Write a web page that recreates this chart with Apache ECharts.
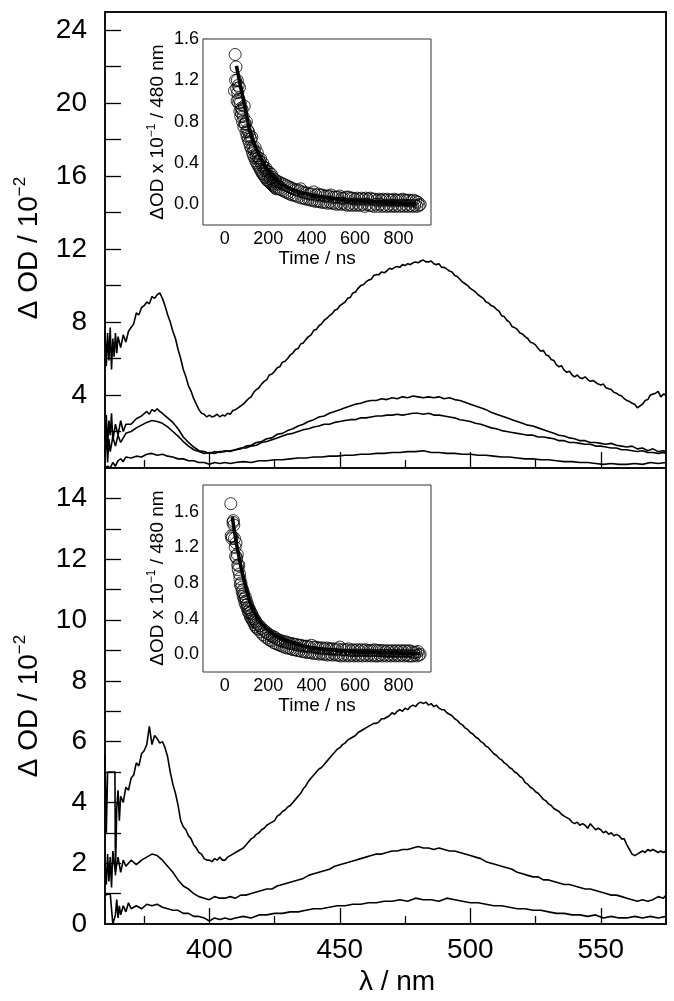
<!DOCTYPE html>
<html><head><meta charset="utf-8">
<script src="https://cdn.jsdelivr.net/npm/echarts@6/dist/echarts.min.js"></script>
<style>html,body{margin:0;padding:0;background:#fff}#c{width:674px;height:1001px}</style>
</head><body><div id="c"></div>
<script>
// ---- main spectra, top panel (λ nm, ΔOD /10^-2)
const topA = [[360,7.5],[360.5,5.6],[361,7.4],[361.5,5.9],[362,7.7],[362.5,5.4],[363,7.1],[363.5,6.1],[364,7.4],[364.5,6.3],[365,7.2],[366,6.6],[367,7.3],[368,6.9],[369,7.5],[370,7.7],[371,7.9],[372,8.5],[373,8.4],[374,8.8],[375,8.9],[376,9.1],[377,9.0],[378,9.4],[379,9.3],[380,9.5],[381,9.6],[382,9.3],[383,8.9],[384,8.4],[385,8.0],[386,7.5],[387,7.1],[388,6.5],[389,6.0],[390,5.4],[391,5.0],[392,4.5],[393,4.2],[394,3.8],[395,3.5],[396,3.2],[397,3.0],[398,2.95],[399,2.8],[400,2.9],[401,2.8],[402,2.85],[403,2.95],[404,2.8],[405,2.9],[406,2.85],[407,3.0],[408,2.95],[409,3.15],[410,3.2],[411,3.3],[412,3.4],[413,3.5],[414,3.65],[415,3.8],[416,3.9],[417,4.15],[418,4.3],[419,4.4],[420,4.6],[421,4.75],[422,4.85],[423,5.1],[424,5.15],[425,5.3],[426,5.5],[427,5.55],[428,5.8],[429,5.85],[430,6.0],[431,6.2],[432,6.3],[433,6.5],[434,6.55],[435,6.8],[436,6.85],[437,7.05],[438,7.2],[439,7.3],[440,7.55],[441,7.6],[442,7.8],[443,7.9],[444,8.1],[445,8.2],[446,8.35],[447,8.45],[448,8.65],[449,8.7],[450,8.9],[451,9.0],[452,9.1],[453,9.3],[454,9.35],[455,9.6],[456,9.65],[457,9.85],[458,10.0],[459,10.05],[460,10.2],[461,10.3],[462,10.35],[463,10.55],[464,10.6],[465,10.6],[466,10.75],[467,10.7],[468,10.8],[469,10.95],[470,10.9],[471,11.0],[472,11.05],[473,11.0],[474,11.15],[475,11.1],[476,11.2],[477,11.15],[478,11.25],[479,11.3],[480,11.25],[481,11.35],[482,11.4],[483,11.3],[484,11.3],[485,11.35],[486,11.2],[487,11.15],[488,11.2],[489,11.0],[490,11.0],[491,10.9],[492,10.8],[493,10.75],[494,10.55],[495,10.5],[496,10.35],[497,10.2],[498,10.1],[499,10.0],[500,9.85],[501,9.75],[502,9.65],[503,9.5],[504,9.4],[505,9.3],[506,9.1],[507,9.05],[508,8.9],[509,8.85],[510,8.7],[511,8.6],[512,8.35],[513,8.3],[514,8.1],[515,8.0],[516,7.75],[517,7.7],[518,7.6],[519,7.4],[520,7.35],[521,7.2],[522,7.1],[523,6.9],[524,6.85],[525,6.75],[526,6.55],[527,6.4],[528,6.45],[529,6.2],[530,6.15],[531,5.95],[532,5.9],[533,5.65],[534,5.55],[535,5.6],[536,5.35],[537,5.25],[538,5.3],[539,5.1],[540,5.0],[541,5.1],[542,4.95],[543,4.9],[544,5.0],[545,4.85],[546,4.75],[547,4.8],[548,4.7],[549,4.6],[550,4.55],[551,4.6],[552,4.4],[553,4.35],[554,4.3],[555,4.15],[556,4.1],[557,4.0],[558,3.95],[559,3.8],[560,3.7],[561,3.65],[562,3.55],[563,3.5],[564,3.3],[565,3.4],[566,3.5],[567,3.7],[568,3.75],[569,4.0],[570,4.05],[571,4.1],[572,4.2],[573,3.9],[574,4.05],[575,4.0]];
const topB = [[360,1.5],[360.5,2.9],[361,1.2],[361.5,2.6],[362,1.8],[362.5,3.0],[363,1.5],[364,2.4],[365,1.8],[366,2.6],[367,2.0],[368,2.4],[370,2.4],[372,2.7],[374,2.85],[376,3.1],[377,2.95],[378,3.2],[379,3.1],[380,3.25],[381,3.1],[382,3.0],[384,2.75],[386,2.5],[388,2.15],[390,1.7],[392,1.4],[394,1.15],[396,0.95],[398,0.9],[400,0.8],[402,0.9],[404,0.85],[406,0.95],[408,0.9],[410,1.0],[412,1.05],[414,1.2],[416,1.25],[418,1.4],[420,1.45],[422,1.6],[424,1.65],[426,1.85],[428,1.9],[430,2.05],[432,2.15],[434,2.3],[436,2.4],[438,2.55],[440,2.65],[442,2.8],[444,2.85],[446,3.0],[448,3.1],[450,3.2],[452,3.3],[454,3.4],[456,3.5],[458,3.55],[460,3.65],[462,3.7],[464,3.7],[466,3.8],[468,3.75],[470,3.85],[472,3.8],[474,3.9],[476,3.85],[478,3.95],[480,3.9],[482,3.85],[484,3.9],[486,3.85],[488,3.9],[490,3.8],[492,3.85],[494,3.75],[496,3.7],[498,3.6],[500,3.5],[502,3.4],[504,3.3],[506,3.2],[508,3.05],[510,2.95],[512,2.85],[514,2.75],[516,2.65],[518,2.55],[520,2.45],[522,2.35],[524,2.3],[526,2.2],[528,2.1],[530,2.0],[532,1.9],[534,1.8],[536,1.75],[538,1.65],[540,1.6],[542,1.5],[544,1.5],[546,1.4],[548,1.4],[550,1.35],[552,1.3],[554,1.35],[556,1.25],[558,1.2],[560,1.15],[562,1.2],[564,1.05],[566,1.1],[568,0.95],[570,1.05],[572,0.9],[574,0.95],[575,0.9]];
const topC = [[360,0.6],[360.5,2.0],[361,0.3],[361.5,1.6],[362,0.9],[363,1.7],[364,1.2],[365,1.8],[366,1.4],[368,1.9],[370,2.0],[372,2.2],[374,2.35],[376,2.5],[378,2.6],[380,2.55],[382,2.45],[384,2.25],[386,2.0],[388,1.75],[390,1.45],[392,1.2],[394,1.0],[396,0.9],[398,0.8],[400,0.85],[402,0.8],[404,0.9],[406,0.9],[408,0.95],[410,1.0],[412,1.1],[414,1.1],[416,1.2],[418,1.25],[420,1.4],[422,1.45],[424,1.55],[426,1.65],[428,1.75],[430,1.85],[432,1.9],[434,2.0],[436,2.1],[438,2.15],[440,2.25],[442,2.3],[444,2.4],[446,2.4],[448,2.5],[450,2.55],[452,2.6],[454,2.65],[456,2.65],[458,2.75],[460,2.75],[462,2.8],[464,2.85],[466,2.85],[468,2.9],[470,2.9],[472,2.95],[474,2.9],[476,2.95],[478,3.0],[480,3.0],[482,2.95],[484,3.0],[486,2.9],[488,2.9],[490,2.85],[492,2.8],[494,2.75],[496,2.65],[498,2.6],[500,2.55],[502,2.45],[504,2.4],[506,2.3],[508,2.2],[510,2.15],[512,2.05],[514,2.0],[516,1.95],[518,1.9],[520,1.85],[522,1.8],[524,1.8],[526,1.7],[528,1.7],[530,1.65],[532,1.6],[534,1.5],[536,1.5],[538,1.4],[540,1.4],[542,1.35],[544,1.3],[546,1.3],[548,1.2],[550,1.2],[552,1.15],[554,1.1],[556,1.1],[558,1.0],[560,1.0],[562,0.95],[564,0.9],[566,0.95],[568,0.85],[570,0.85],[572,0.8],[574,0.85],[575,0.8]];
const topD = [[360,0.0],[361,0.1],[362,0.0],[363,0.3],[364,0.1],[365,0.4],[366,0.5],[367,0.35],[368,0.6],[370,0.55],[372,0.65],[374,0.6],[376,0.75],[378,0.8],[380,0.7],[382,0.75],[384,0.65],[386,0.6],[388,0.5],[390,0.5],[392,0.4],[394,0.4],[396,0.3],[398,0.3],[400,0.2],[402,0.3],[404,0.25],[406,0.3],[408,0.25],[410,0.3],[413,0.35],[416,0.3],[419,0.4],[422,0.4],[425,0.45],[428,0.45],[431,0.5],[434,0.55],[437,0.55],[440,0.6],[443,0.6],[446,0.65],[449,0.65],[452,0.7],[455,0.7],[458,0.75],[461,0.75],[464,0.8],[467,0.8],[470,0.85],[473,0.85],[476,0.9],[479,0.9],[482,0.95],[485,0.85],[488,0.85],[491,0.8],[494,0.8],[497,0.75],[500,0.75],[503,0.7],[506,0.7],[509,0.65],[512,0.6],[515,0.6],[518,0.55],[521,0.5],[524,0.5],[527,0.45],[530,0.45],[533,0.4],[536,0.35],[539,0.35],[542,0.3],[545,0.3],[548,0.25],[551,0.2],[554,0.25],[557,0.2],[560,0.2],[563,0.25],[566,0.2],[569,0.3],[572,0.25],[575,0.3]];
// ---- main spectra, bottom panel
const botE = [[360,5.6],[360.5,3.0],[361,5.0],[362,5.0],[363,5.0],[363.8,5.0],[364,1.6],[364.5,3.8],[365,4.4],[365.5,3.4],[366,4.2],[367,4.0],[368,4.5],[369,4.4],[370,4.8],[371,4.9],[372,5.3],[373,5.2],[374,5.6],[375,5.7],[376,5.9],[377,6.5],[378,5.9],[379,6.2],[380,6.1],[381,5.95],[382,6.0],[383,5.8],[384,5.5],[385,5.0],[386,4.6],[387,4.3],[388,3.9],[389,3.4],[390,3.2],[391,3.1],[392,2.9],[393,2.8],[394,2.6],[395,2.5],[396,2.35],[397,2.3],[398,2.15],[399,2.1],[400,2.1],[401,2.05],[402,2.15],[403,2.1],[404,2.2],[405,2.1],[406,2.1],[407,2.2],[408,2.25],[409,2.3],[410,2.35],[411,2.4],[412,2.45],[413,2.5],[414,2.6],[415,2.7],[416,2.8],[417,2.85],[418,2.95],[419,3.0],[420,3.1],[421,3.15],[422,3.25],[423,3.3],[424,3.35],[425,3.4],[426,3.55],[427,3.6],[428,3.7],[429,3.75],[430,3.85],[431,3.9],[432,4.0],[433,4.1],[434,4.2],[435,4.3],[436,4.45],[437,4.55],[438,4.7],[439,4.8],[440,4.9],[441,5.0],[442,5.1],[443,5.15],[444,5.25],[445,5.35],[446,5.45],[447,5.55],[448,5.65],[449,5.75],[450,5.8],[451,5.9],[452,5.95],[453,6.05],[454,6.1],[455,6.15],[456,6.2],[457,6.3],[458,6.35],[459,6.4],[460,6.45],[461,6.5],[462,6.55],[463,6.6],[464,6.6],[465,6.65],[466,6.75],[467,6.75],[468,6.8],[469,6.85],[470,6.95],[471,6.9],[472,7.0],[473,7.05],[474,7.0],[475,7.1],[476,7.05],[477,7.15],[478,7.2],[479,7.15],[480,7.25],[481,7.3],[482,7.25],[483,7.3],[484,7.2],[485,7.25],[486,7.15],[487,7.2],[488,7.1],[489,7.05],[490,7.05],[491,6.95],[492,6.9],[493,6.85],[494,6.75],[495,6.7],[496,6.6],[497,6.55],[498,6.45],[499,6.4],[500,6.3],[501,6.25],[502,6.15],[503,6.1],[504,6.0],[505,5.95],[506,5.85],[507,5.8],[508,5.7],[509,5.6],[510,5.55],[511,5.45],[512,5.4],[513,5.3],[514,5.25],[515,5.15],[516,5.1],[517,5.0],[518,4.95],[519,4.85],[520,4.8],[521,4.65],[522,4.6],[523,4.5],[524,4.45],[525,4.35],[526,4.3],[527,4.2],[528,4.1],[529,4.05],[530,3.95],[531,3.9],[532,3.8],[533,3.75],[534,3.7],[535,3.6],[536,3.55],[537,3.5],[538,3.45],[539,3.35],[540,3.3],[541,3.35],[542,3.25],[543,3.3],[544,3.25],[545,3.15],[546,3.3],[547,3.2],[548,3.1],[549,3.15],[550,3.1],[551,3.0],[552,3.05],[553,2.95],[554,3.0],[555,2.9],[556,2.95],[557,2.9],[558,2.8],[559,2.8],[560,2.6],[561,2.45],[562,2.3],[563,2.25],[564,2.3],[565,2.35],[566,2.4],[567,2.35],[568,2.45],[569,2.4],[570,2.45],[571,2.4],[572,2.35],[573,2.4],[574,2.35],[575,2.4]];
const botF = [[360,2.0],[360.5,1.3],[361,2.3],[361.5,1.4],[362,2.2],[362.5,1.2],[363,2.4],[364,1.7],[365,2.2],[366,1.7],[367,2.1],[368,1.9],[370,2.1],[372,1.95],[374,2.1],[376,2.2],[378,2.3],[380,2.25],[382,2.1],[384,1.9],[386,1.7],[388,1.45],[390,1.25],[392,1.15],[394,1.0],[396,0.9],[398,0.85],[400,0.8],[402,0.9],[404,0.85],[406,0.85],[408,0.9],[410,0.85],[412,0.95],[414,0.95],[416,1.0],[418,1.05],[420,1.1],[422,1.15],[424,1.15],[426,1.25],[428,1.3],[430,1.35],[432,1.4],[434,1.45],[436,1.5],[438,1.6],[440,1.65],[442,1.7],[444,1.75],[446,1.8],[448,1.9],[450,1.95],[452,2.0],[454,2.05],[456,2.1],[458,2.15],[460,2.2],[462,2.25],[464,2.3],[466,2.3],[468,2.35],[470,2.4],[472,2.4],[474,2.45],[476,2.45],[478,2.5],[480,2.55],[482,2.5],[484,2.5],[486,2.45],[488,2.5],[490,2.45],[492,2.4],[494,2.4],[496,2.35],[498,2.3],[500,2.25],[502,2.2],[504,2.15],[506,2.05],[508,2.0],[510,1.95],[512,1.9],[514,1.85],[516,1.8],[518,1.7],[520,1.65],[522,1.6],[524,1.55],[526,1.55],[528,1.45],[530,1.45],[532,1.4],[534,1.35],[536,1.3],[538,1.3],[540,1.25],[542,1.2],[544,1.15],[546,1.15],[548,1.1],[550,1.05],[552,1.0],[554,0.95],[556,0.95],[558,0.9],[560,0.85],[562,0.8],[564,0.75],[566,0.8],[568,0.75],[570,0.8],[572,0.9],[574,0.85],[575,0.95]];
const botG = [[360,0.95],[360.5,1.0],[362,1.0],[363,0.0],[363.5,0.0],[364,0.3],[364.5,0.8],[365,0.2],[365.5,0.6],[366,0.3],[367,0.6],[368,0.4],[369,0.7],[370,0.5],[372,0.6],[374,0.5],[376,0.65],[378,0.6],[380,0.65],[382,0.55],[384,0.5],[386,0.45],[388,0.45],[390,0.35],[392,0.35],[394,0.25],[396,0.25],[398,0.2],[400,0.1],[402,0.2],[404,0.15],[406,0.2],[408,0.15],[410,0.2],[413,0.25],[416,0.2],[419,0.3],[422,0.3],[425,0.35],[428,0.35],[431,0.4],[434,0.4],[437,0.45],[440,0.5],[443,0.5],[446,0.55],[449,0.6],[452,0.6],[455,0.65],[458,0.65],[461,0.7],[464,0.7],[467,0.75],[470,0.75],[473,0.8],[476,0.75],[479,0.85],[482,0.8],[485,0.8],[488,0.75],[491,0.85],[494,0.8],[497,0.75],[500,0.7],[503,0.7],[506,0.65],[509,0.6],[512,0.6],[515,0.55],[518,0.5],[521,0.5],[524,0.45],[527,0.45],[530,0.4],[533,0.35],[536,0.35],[539,0.3],[542,0.3],[545,0.25],[548,0.3],[551,0.2],[554,0.25],[557,0.2],[560,0.2],[563,0.25],[566,0.2],[569,0.25],[572,0.2],[575,0.25]];
// ---- inset kinetics (time ns, ΔOD x10^-1 at 480 nm)
const inset1Points = [[45,1.10],[48,1.45],[50,1.20],[52,1.33],[55,1.12],[57,1.00],[58,1.20],[60,1.08],[62,1.15],[64,0.98],[65,1.02],[68,1.13],[70,0.90],[72,0.98],[74,0.85],[75,0.93],[78,0.88],[80,0.92],[82,0.80],[85,0.85],[88,0.75],[90,0.95],[92,0.78],[95,0.78],[98,0.70],[100,0.80],[103,0.66],[105,0.72],[108,0.63],[110,0.70],[113,0.60],[115,0.66],[118,0.56],[120,0.63],[123,0.54],[125,0.65],[128,0.50],[130,0.55],[133,0.47],[135,0.52],[138,0.45],[140,0.55],[143,0.42],[145,0.47],[148,0.40],[150,0.50],[153,0.38],[155,0.45],[158,0.36],[160,0.42],[163,0.34],[165,0.44],[168,0.32],[170,0.38],[173,0.30],[175,0.40],[178,0.29],[180,0.36],[183,0.27],[185,0.33],[188,0.26],[190,0.35],[193,0.24],[195,0.32],[198,0.23],[200,0.28],[203,0.22],[205,0.31],[208,0.21],[210,0.25],[213,0.20],[215,0.29],[218,0.19],[220,0.26],[223,0.18],[225,0.22],[228,0.17],[230,0.24],[233,0.16],[235,0.23],[238,0.15],[240,0.20],[245,0.22],[250,0.15],[255,0.21],[260,0.14],[265,0.20],[270,0.13],[275,0.19],[280,0.12],[285,0.18],[290,0.11],[295,0.17],[300,0.10],[305,0.16],[310,0.09],[315,0.15],[320,0.09],[325,0.14],[330,0.08],[335,0.14],[340,0.07],[345,0.13],[350,0.15],[355,0.06],[360,0.12],[365,0.06],[370,0.11],[375,0.05],[380,0.11],[385,0.05],[390,0.10],[395,0.04],[400,0.10],[405,0.04],[410,0.12],[415,0.03],[420,0.09],[425,0.03],[430,0.10],[435,0.03],[440,0.09],[445,0.02],[450,0.09],[455,0.02],[460,0.08],[465,0.02],[470,0.08],[475,0.01],[480,0.08],[485,0.02],[490,0.09],[495,0.01],[500,0.07],[505,0.01],[510,0.07],[515,0.00],[520,0.07],[525,0.01],[530,0.08],[535,0.00],[540,0.06],[545,0.01],[550,0.06],[555,0.00],[560,0.07],[565,-0.01],[570,0.07],[575,0.00],[580,0.06],[585,-0.01],[590,0.06],[595,0.00],[600,0.05],[605,-0.01],[610,0.06],[615,0.00],[620,0.05],[625,-0.01],[630,0.06],[635,0.00],[640,0.05],[645,-0.02],[650,0.06],[655,0.00],[660,0.05],[665,-0.01],[670,0.06],[675,-0.01],[680,0.05],[685,-0.02],[690,0.05],[695,0.00],[700,0.04],[705,-0.02],[710,0.05],[715,0.00],[720,0.04],[725,-0.02],[730,0.05],[735,-0.01],[740,0.04],[745,-0.02],[750,0.05],[755,-0.01],[760,0.04],[765,-0.02],[770,0.04],[775,-0.01],[780,0.05],[785,-0.02],[790,0.04],[795,-0.01],[800,0.04],[805,-0.02],[810,0.04],[815,-0.01],[820,0.05],[825,-0.02],[830,0.04],[835,-0.01],[840,0.04],[845,-0.02],[850,0.04],[855,-0.01],[860,0.03],[865,-0.02],[870,0.04],[875,-0.01],[880,0.03],[885,-0.02],[890,0.02],[895,-0.01],[900,0.00]];
const inset1Fit = [[54,1.34],[72,1.15],[95,0.92],[118,0.69],[140,0.56],[164,0.46],[190,0.36],[225,0.27],[270,0.19],[317,0.14],[380,0.10],[454,0.07],[550,0.045],[653,0.03],[760,0.015],[882,0.003]];
const inset2Points = [[28,1.69],[30,1.33],[33,1.30],[35,1.32],[38,1.48],[40,1.50],[42,1.45],[45,1.30],[48,1.20],[50,1.10],[52,1.25],[55,1.08],[58,1.12],[60,1.00],[62,0.95],[65,1.00],[68,0.90],[70,0.85],[72,0.78],[75,0.80],[78,0.75],[80,0.70],[83,0.72],[85,0.65],[88,0.68],[90,0.62],[93,0.58],[95,0.64],[98,0.55],[100,0.60],[103,0.52],[105,0.56],[108,0.48],[110,0.52],[113,0.46],[115,0.50],[118,0.42],[120,0.47],[123,0.40],[125,0.45],[128,0.38],[130,0.42],[133,0.36],[135,0.40],[138,0.33],[140,0.38],[143,0.31],[145,0.36],[148,0.29],[150,0.34],[155,0.28],[160,0.32],[165,0.25],[170,0.29],[175,0.22],[180,0.27],[185,0.20],[190,0.25],[195,0.18],[200,0.23],[205,0.16],[210,0.21],[215,0.15],[220,0.20],[225,0.13],[230,0.19],[235,0.12],[240,0.17],[245,0.11],[250,0.16],[255,0.10],[260,0.15],[265,0.09],[270,0.14],[275,0.08],[280,0.14],[285,0.07],[290,0.13],[295,0.07],[300,0.12],[305,0.06],[310,0.12],[315,0.05],[320,0.11],[325,0.05],[330,0.11],[335,0.04],[340,0.10],[345,0.04],[350,0.10],[355,0.03],[360,0.09],[365,0.03],[370,0.09],[375,0.02],[380,0.09],[385,0.02],[390,0.08],[395,0.02],[400,0.10],[405,0.01],[410,0.08],[415,0.01],[420,0.08],[425,0.01],[430,0.07],[435,0.00],[440,0.07],[445,0.01],[450,0.07],[455,0.00],[460,0.06],[465,0.00],[470,0.07],[475,-0.01],[480,0.06],[485,0.00],[490,0.06],[495,-0.01],[500,0.06],[505,0.00],[510,0.05],[515,-0.01],[520,0.06],[525,-0.01],[530,0.08],[535,-0.02],[540,0.05],[545,-0.01],[550,0.05],[555,-0.02],[560,0.05],[565,-0.01],[570,0.06],[575,-0.02],[580,0.04],[585,-0.01],[590,0.05],[595,-0.02],[600,0.04],[605,-0.01],[610,0.05],[615,-0.02],[620,0.04],[625,-0.01],[630,0.05],[635,-0.02],[640,0.04],[645,-0.01],[650,0.05],[655,-0.02],[660,0.04],[665,-0.01],[670,0.04],[675,-0.02],[680,0.04],[685,-0.01],[690,0.05],[695,-0.02],[700,0.04],[705,-0.02],[710,0.04],[715,-0.01],[720,0.04],[725,-0.02],[730,0.04],[735,-0.01],[740,0.03],[745,-0.02],[750,0.04],[755,-0.01],[760,0.03],[765,-0.02],[770,0.04],[775,-0.01],[780,0.03],[785,-0.02],[790,0.04],[795,-0.01],[800,0.03],[805,-0.02],[810,0.04],[815,-0.01],[820,0.03],[825,-0.02],[830,0.04],[835,-0.01],[840,0.03],[845,-0.02],[850,0.04],[855,-0.02],[860,0.03],[865,-0.02],[870,0.02],[875,-0.01],[880,0.02],[885,-0.02],[890,0.03],[895,-0.01],[900,0.00]];
const inset2Fit = [[35,1.54],[50,1.30],[66,1.09],[80,0.92],[97,0.75],[115,0.60],[135,0.47],[160,0.37],[197,0.28],[230,0.22],[274,0.17],[330,0.12],[397,0.075],[480,0.05],[581,0.03],[700,0.02],[800,0.013],[900,0.005]];
// ---- tick values
const mainXMajor = [400,450,500,550];
const mainXMinor = [375,425,475,525];
const insetXMajor = [0,200,400,600,800];
const insetXMinor = [100,300,500,700,900];
const insetYMajor = [0,0.4,0.8,1.2,1.6];
const insetYMinor1 = [0.2,0.6,1.0,1.4];
const insetYMinor2 = [0.2,0.6,1.0,1.4,1.8];
const ytTop = [2,4,6,8,10,12,14,16,18,20,22,24];
const ytTopLab = [4,8,12,16,20,24];
const ytBot = [1,2,3,4,5,6,7,8,9,10,11,12,13,14];
const ytBotLab = [0,2,4,6,8,10,12,14];

const FONT = 'Liberation Sans, Arial, sans-serif';
const chart = echarts.init(document.getElementById('c'), null, {renderer:'canvas'});

function xAx(grid, min, max, ticks, len, labels, fs, margin){
  return {type:'value', gridIndex:grid, min:min, max:max, position:'bottom',
    axisLine:{show:false,onZero:false}, splitLine:{show:false},
    axisTick:{show:true, inside:true, length:len, customValues:ticks, lineStyle:{color:'#000',width:1.3}},
    axisLabel:{show:!!labels, customValues:ticks, fontSize:fs, fontFamily:FONT, color:'#000', margin:margin}};
}
function yAx(grid, min, max, ticks, len, labels, fs, margin){
  return {type:'value', gridIndex:grid, min:min, max:max, position:'left',
    axisLine:{show:false,onZero:false}, splitLine:{show:false},
    axisTick:{show:true, inside:true, length:len, customValues:ticks, lineStyle:{color:'#000',width:1.3}},
    axisLabel:{show:!!labels, customValues:labels||ticks, fontSize:fs, fontFamily:FONT, color:'#000', margin:margin,
      formatter:(v)=> (fs<20 ? v.toFixed(1) : String(v))}};
}

const lineS = (data, xi, yi) => ({type:'line', data:data, xAxisIndex:xi, yAxisIndex:yi, showSymbol:false, symbol:'none',
  lineStyle:{color:'#000', width:1.6}, silent:true, animation:false});
const circ = {color:'rgba(0,0,0,0)', borderColor:'#000', borderWidth:1};

chart.setOption({
  animation:false,
  backgroundColor:'#fff',
  grid:[
    {left:105, top:12, width:561, height:456, show:true, borderColor:'#111', borderWidth:2, backgroundColor:'#fff'},
    {left:105, top:468, width:561, height:456, show:true, borderColor:'#111', borderWidth:2, backgroundColor:'transparent'},
    {left:203, top:39, width:228, height:186, show:true, borderColor:'#333', borderWidth:1, backgroundColor:'#fff', z:5},
    {left:203, top:485, width:228, height:187, show:true, borderColor:'#333', borderWidth:1, backgroundColor:'#fff', z:5}
  ],
  xAxis:[
    xAx(0,360,575,mainXMajor,16,false,28,12),
    xAx(0,360,575,mainXMinor,8,false,28,12),
    xAx(1,360,575,mainXMajor,16,true,28,12),
    xAx(1,360,575,mainXMinor,8,false,28,12),
    xAx(2,-100,950,insetXMajor,7,true,18,5),
    xAx(2,-100,950,insetXMinor,4,false,18,5),
    xAx(3,-100,950,insetXMajor,7,true,18,5),
    xAx(3,-100,950,insetXMinor,4,false,18,5)
  ],
  yAxis:[
    yAx(0,0,25,ytTop,16,ytTopLab,28,18),
    yAx(1,0,15,ytBot,16,ytBotLab,28,18),
    yAx(2,-0.2,1.6,insetYMajor,6,insetYMajor,18,4),
    yAx(2,-0.2,1.6,insetYMinor1,3,false,18,4),
    yAx(3,-0.2,1.9,insetYMajor,6,insetYMajor,18,4),
    yAx(3,-0.2,1.9,insetYMinor2,3,false,18,4)
  ],
  series:[
    lineS(topA,0,0), lineS(topB,0,0), lineS(topC,0,0), lineS(topD,0,0),
    lineS(botE,2,1), lineS(botF,2,1), lineS(botG,2,1),
    {type:'scatter', data:inset1Points, xAxisIndex:4, yAxisIndex:2, symbol:'circle', symbolSize:12, itemStyle:circ, z:6, silent:true},
    {type:'line', data:inset1Fit, xAxisIndex:4, yAxisIndex:2, showSymbol:false, smooth:true, lineStyle:{color:'#000', width:3.5}, z:7, silent:true},
    {type:'scatter', data:inset2Points, xAxisIndex:6, yAxisIndex:4, symbol:'circle', symbolSize:12, itemStyle:circ, z:6, silent:true},
    {type:'line', data:inset2Fit, xAxisIndex:6, yAxisIndex:4, showSymbol:false, smooth:true, lineStyle:{color:'#000', width:3.5}, z:7, silent:true}
  ],
  graphic:[
    {type:'text', x:29, y:248, rotation:Math.PI/2, style:{text:'{a|Δ OD / 10}{s|−2}', align:'center', verticalAlign:'middle',
      rich:{a:{fontSize:28, fontFamily:FONT, fill:'#000', lineHeight:34}, s:{fontSize:17, fontFamily:FONT, fill:'#000', verticalAlign:'top'}}}},
    {type:'text', x:29, y:706, rotation:Math.PI/2, style:{text:'{a|Δ OD / 10}{s|−2}', align:'center', verticalAlign:'middle',
      rich:{a:{fontSize:28, fontFamily:FONT, fill:'#000', lineHeight:34}, s:{fontSize:17, fontFamily:FONT, fill:'#000', verticalAlign:'top'}}}},
    {type:'text', x:397, y:982, style:{text:'λ / nm', align:'center', verticalAlign:'middle', fontSize:28, fontFamily:FONT, fill:'#000'}},
    {type:'text', x:158, y:132, rotation:Math.PI/2, z:10, style:{text:'{a|ΔOD x 10}{s|−1}{a| / 480 nm}', align:'center', verticalAlign:'middle',
      rich:{a:{fontSize:19, fontFamily:FONT, fill:'#000', lineHeight:24}, s:{fontSize:12, fontFamily:FONT, fill:'#000', verticalAlign:'top'}}}},
    {type:'text', x:158, y:578, rotation:Math.PI/2, z:10, style:{text:'{a|ΔOD x 10}{s|−1}{a| / 480 nm}', align:'center', verticalAlign:'middle',
      rich:{a:{fontSize:19, fontFamily:FONT, fill:'#000', lineHeight:24}, s:{fontSize:12, fontFamily:FONT, fill:'#000', verticalAlign:'top'}}}},
    {type:'text', x:317, y:259, z:10, style:{text:'Time / ns', align:'center', verticalAlign:'middle', fontSize:19, fontFamily:FONT, fill:'#000'}},
    {type:'text', x:317, y:706, z:10, style:{text:'Time / ns', align:'center', verticalAlign:'middle', fontSize:19, fontFamily:FONT, fill:'#000'}}
  ]
});
</script></body></html>
